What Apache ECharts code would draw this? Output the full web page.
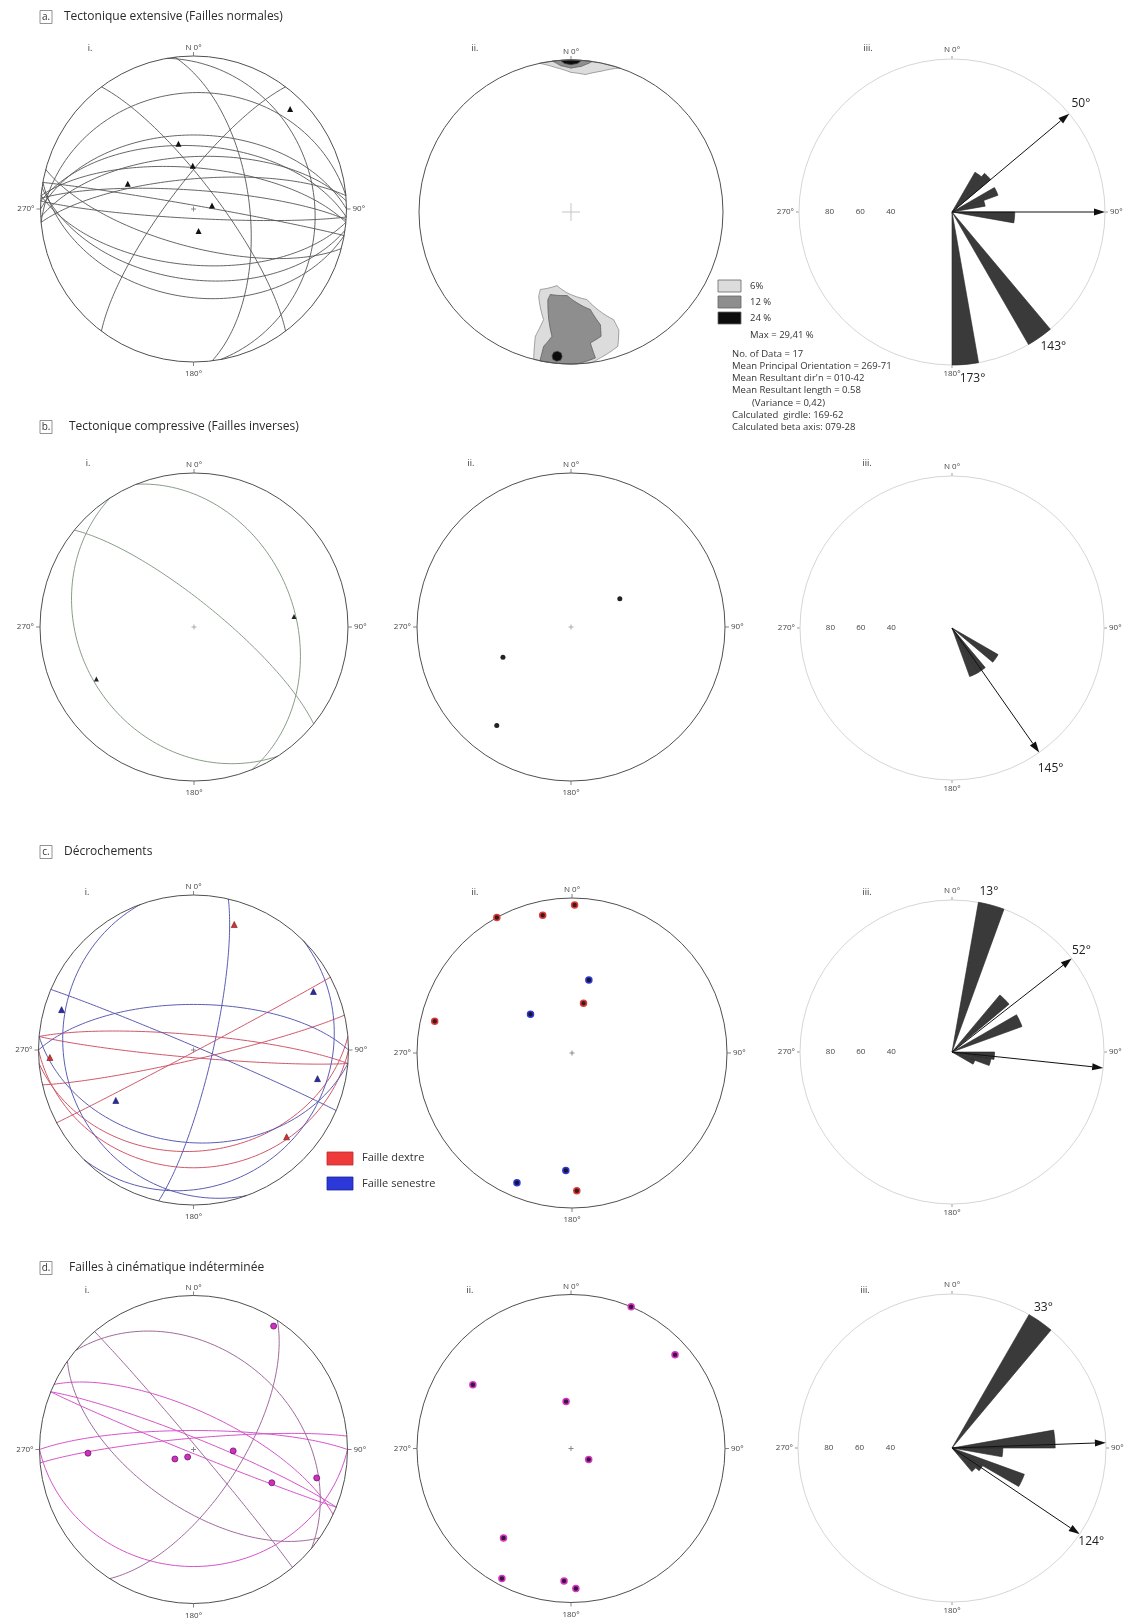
<!DOCTYPE html>
<html lang="fr">
<head>
<meta charset="utf-8">
<title>Stéréogrammes des failles</title>
<script src="https://cdn.jsdelivr.net/npm/echarts@6/dist/echarts.min.js"></script>
<style>
html,body{margin:0;padding:0;background:#fff;}
#chart{width:1130px;height:1620px;}
</style>
</head>
<body>
<div id="chart"></div>
<script>
// ================= DATA =================
// Planes: [dip direction (°), dip (°)] ; lineations / poles: [trend (°), plunge (°)]
// a. Tectonique extensive
const aiPlanes = [[0,50],[3,56],[357,62],[5,68],[355,74],[4,80],[183,85],[185,60],[188,52],[83,60],[53,77],[307,77],[80,22],[355,25],[190,42],[10,88],[195,70]];
const aiLineations = [[44,10],[347,54],[359,67],[291,52],[79,80],[167,78]];
// a.ii density contours (outline vertices as [trend, plunge])
const aiiContour6S  = [[201.6,44.4],[190.8,49.2],[182.8,45.8],[169.7,41.1],[158.4,24.8],[157.9,17.6],[160.8,7.1],[168.6,2.4],[172,0],[181.5,0],[194.2,0],[196,16],[194.3,27.8],[201,40.4]];
const aiiContour12S = [[194.1,43.4],[182.7,44.2],[168.8,34.9],[165.4,24.4],[166.4,17],[171.6,14],[170.5,3],[177.7,0],[191.8,0],[191.5,10.8],[188.7,18.4],[191.7,28.6],[194.8,40.2]];
const aiiContour24S = [[185.5,8.8],[187,7.8],[187.5,5.2],[187,2.6],[185.5,1.6],[184,2.6],[183.5,5.2],[184,7.8]];
const aiiContour6N  = [[348,0],[354,5],[0,9],[6,10],[12,6],[17,1.5],[19,0],[9,0],[0,0]];
const aiiContour12N = [[353,0],[356,4],[0,6],[4,4.5],[7,1.5],[8,0],[0,0]];
const aiiContour24N = [[356,0],[357.5,2.5],[0,3.5],[2.5,2.5],[4,0],[0,0]];
const aiiLegendLabels = ['6%','12 %','24 %'];
const aiiStats = ['No. of Data = 17','Mean Principal Orientation = 269-71','Mean Resultant dir\'n = 010-42','Mean Resultant length = 0.58','(Variance = 0,42)','Calculated  girdle: 169-62','Calculated beta axis: 079-28'];
const roseABins = [30,40,60,70,90,140,170];
const roseAVals = [30,33,32,22,41,100,100];
const roseAArrows = [50,90];
const roseALabels = [50,143,173];

// b. Tectonique compressive
const biPlanes = [[68,35],[237,27],[39,77]];
const biLineations = [[84,35],[242,29]];
const biiPoles = [[60,60],[246,50],[217,21]];
const roseBBins = [120,140,150];
const roseBVals = [35,34,34];
const roseBArrows = [145];
const roseBLabels = [145];

// c. Décrochements
const ciDextralPlanes = [[152,89],[5,82],[185,86],[167,85],[175,35],[180,25]];
const ciSenestralPlanes = [[103,80],[23,88],[0,66],[185,40],[135,15],[250,18]];
const ciDextralLineations = [[18,16],[267,8],[133,19]];
const ciSenestralLineations = [[64,15],[287,12],[237,40],[103,19]];
const ciiDextralPoles = [[1,5],[331,0],[348,10],[13,63],[283,10],[178,12]];
const ciiSenestralPoles = [[13,50],[313,60],[183,25],[203,10]];
const roseCBins = [10,40,60,90,100,110];
const roseCVals = [100,49,49,28,26,16];
const roseCArrows = [52,96];
const roseCLabels = [13,52];

// d. Failles à cinématique indéterminée
const diPlanesMagenta = [[22,84],[202,88],[25,70],[0,80],[355,84],[180,25]];
const diPlanesMauve = [[123,65],[50,88],[40,35],[215,60]];
const diLineations = [[33,5],[268,32],[243,79],[218,85],[92,69],[113,44],[103,19]];
const diiPoles = [[23,0],[48,10],[303,25],[354,65],[122,79],[217,28],[208,5],[183,15],[178,10]];
const roseDBins = [30,80,90,110,120,130];
const roseDVals = [100,67,33,50,23,20];
const roseDArrows = [88,124];
const roseDLabels = [33,124];

const roseScale = [80,60,40];
const FONT = 'Open Sans';

// ================= HELPERS =================
const D2R = Math.PI / 180;
// lower-hemisphere equal-area (Schmidt) projection, unit primitive
function projLine(trend, plunge) {
  const r = Math.SQRT2 * Math.sin((90 - plunge) / 2 * D2R);
  return [r * Math.sin(trend * D2R), r * Math.cos(trend * D2R)];
}
function greatCircle(dipDir, dip) {
  const s = (dipDir - 90) * D2R, D = dipDir * D2R, d = dip * D2R, pts = [];
  for (let t = 0; t <= 180; t += 2) {
    const ct = Math.cos(t * D2R), st = Math.sin(t * D2R);
    const vE = ct * Math.sin(s) + st * Math.cos(d) * Math.sin(D);
    const vN = ct * Math.cos(s) + st * Math.cos(d) * Math.cos(D);
    const vD = st * Math.sin(d);
    const tr = Math.atan2(vE, vN) / D2R;
    const pl = Math.asin(Math.max(0, Math.min(1, vD))) / D2R;
    pts.push(projLine(tr, pl));
  }
  return pts;
}
function densify(poly) {
  const out = [];
  for (let i = 0; i < poly.length; i++) {
    const a = poly[i], b = poly[(i + 1) % poly.length];
    const dt = ((b[0] - a[0] + 540) % 360) - 180;
    for (let k = 0; k < 8; k++) {
      const f = k / 8;
      out.push([a[0] + dt * f, a[1] + (b[1] - a[1]) * f]);
    }
  }
  return out;
}

// ================= LAYOUT =================
const stereo = [
  {cx:193.5, cy:209,    r:153, cross:5,  crossColor:'#888', sides:true},  // a.i
  {cx:571,   cy:212,    r:152, cross:18, crossColor:'#c4c4c4', sides:false}, // a.ii
  {cx:194,   cy:627,    r:154, cross:5,  crossColor:'#aaa', sides:true},  // b.i
  {cx:571,   cy:627,    r:154, cross:5,  crossColor:'#aaa', sides:true},  // b.ii
  {cx:193.5, cy:1050,   r:155, cross:5,  crossColor:'#888', sides:true},  // c.i
  {cx:572,   cy:1053,   r:155, cross:5,  crossColor:'#888', sides:true},  // c.ii
  {cx:193.5, cy:1449.5, r:154, cross:5,  crossColor:'#888', sides:true},  // d.i
  {cx:571,   cy:1448.5, r:154, cross:5,  crossColor:'#888', sides:true}   // d.ii
];
const roses = [
  {cx:952, cy:212,  r:153, labelR:110},
  {cx:952, cy:628,  r:152, labelR:113},
  {cx:952, cy:1052, r:152, labelR:108},
  {cx:952, cy:1448, r:154, labelR:109}
];

const grids = [], xAxes = [], yAxes = [], series = [];
stereo.forEach((s, i) => {
  grids.push({left: s.cx - s.r, top: s.cy - s.r, width: 2 * s.r, height: 2 * s.r, containLabel: false});
  xAxes.push({gridIndex: i, type: 'value', min: -1, max: 1, show: false});
  yAxes.push({gridIndex: i, type: 'value', min: -1, max: 1, show: false});
  series.push({
    type: 'custom', xAxisIndex: i, yAxisIndex: i, data: [[0, 0]], silent: true, z: 5,
    renderItem: (params, api) => {
      const c = api.coord([0, 0]), e = api.coord([1, 0]);
      const R = e[0] - c[0], h = s.cross / 2;
      const ln = (x1, y1, x2, y2, col, w) => ({type: 'line', shape: {x1, y1, x2, y2}, style: {stroke: col, lineWidth: w}});
      const ch = [
        {type: 'circle', shape: {cx: c[0], cy: c[1], r: R}, style: {fill: 'none', stroke: '#505050', lineWidth: 1}},
        ln(c[0], c[1] - R, c[0], c[1] - R - 4, '#666', 0.8),
        ln(c[0] - h, c[1], c[0] + h, c[1], s.crossColor, 1),
        ln(c[0], c[1] - h, c[0], c[1] + h, s.crossColor, 1)
      ];
      if (s.sides) {
        ch.push(ln(c[0], c[1] + R, c[0], c[1] + R + 4, '#666', 0.8));
        ch.push(ln(c[0] - R, c[1], c[0] - R - 4, c[1], '#666', 0.8));
        ch.push(ln(c[0] + R, c[1], c[0] + R + 4, c[1], '#666', 0.8));
      }
      return {type: 'group', children: ch};
    }
  });
});

function planeSeries(gi, planes, color, width) {
  planes.forEach(p => series.push({
    type: 'line', xAxisIndex: gi, yAxisIndex: gi, data: greatCircle(p[0], p[1]),
    showSymbol: false, symbol: 'none', silent: true, clip: false, z: 3,
    lineStyle: {color: color, width: width}
  }));
}
function pointSeries(gi, pts, o) {
  series.push({
    type: 'scatter', xAxisIndex: gi, yAxisIndex: gi, silent: true, z: 6,
    data: pts.map(p => projLine(p[0], p[1])),
    symbol: o.symbol, symbolSize: o.size,
    itemStyle: {color: o.color, borderColor: o.border || o.color, borderWidth: o.bw || 0, opacity: 1}
  });
}
function contourSeries(gi, poly, fill, stroke) {
  const pts = densify(poly).map(p => projLine(p[0], p[1]));
  series.push({
    type: 'custom', xAxisIndex: gi, yAxisIndex: gi, data: [[0, 0]], silent: true, z: 2,
    renderItem: (params, api) => ({type: 'polygon', shape: {points: pts.map(p => api.coord(p))},
      style: {fill: fill, stroke: stroke, lineWidth: 0.8}})
  });
}

// ---- stereonet content ----
planeSeries(0, aiPlanes, '#555', 0.9);
pointSeries(0, aiLineations, {symbol: 'triangle', size: 6, color: '#111'});

contourSeries(1, aiiContour6S, '#dcdcdc', '#8a8a8a');
contourSeries(1, aiiContour6N, '#dcdcdc', '#8a8a8a');
contourSeries(1, aiiContour12S, '#8e8e8e', '#5e5e5e');
contourSeries(1, aiiContour12N, '#8e8e8e', '#5e5e5e');
contourSeries(1, aiiContour24S, '#0c0c0c', '#444');
contourSeries(1, aiiContour24N, '#0c0c0c', '#444');

planeSeries(2, biPlanes, '#8a9c8a', 1);
pointSeries(2, biLineations, {symbol: 'triangle', size: 5, color: '#222'});
pointSeries(3, biiPoles, {symbol: 'circle', size: 5, color: '#222'});

planeSeries(4, ciDextralPlanes, '#d0586a', 1);
planeSeries(4, ciSenestralPlanes, '#5c5cb4', 1);
pointSeries(4, ciDextralLineations, {symbol: 'triangle', size: 6, color: '#d83030', border: '#5a1d1d', bw: 0.6});
pointSeries(4, ciSenestralLineations, {symbol: 'triangle', size: 6, color: '#2a2aa8', border: '#141450', bw: 0.6});
pointSeries(5, ciiDextralPoles, {symbol: 'circle', size: 6, color: '#3a1c1c', border: '#e33a3a', bw: 1.5});
pointSeries(5, ciiSenestralPoles, {symbol: 'circle', size: 6, color: '#14143a', border: '#2f3ad0', bw: 1.5});

planeSeries(6, diPlanesMagenta, '#d653c9', 1);
planeSeries(6, diPlanesMauve, '#a06a9c', 1);
pointSeries(6, diLineations, {symbol: 'circle', size: 6, color: '#d22ec2', border: '#6a1c66', bw: 0.8});
pointSeries(7, diiPoles, {symbol: 'circle', size: 6, color: '#3c163a', border: '#d636c8', bw: 1.5});

// ---- roses ----
const polars = roses.map(r => ({center: [r.cx, r.cy], radius: r.r}));
const angleAxes = roses.map((r, i) => ({
  polarIndex: i, type: 'value', min: 0, max: 360, interval: 90, startAngle: 90, clockwise: true,
  axisLine: {show: true, lineStyle: {color: '#d6d6d6', width: 1}},
  axisTick: {show: true, length: 3, lineStyle: {color: '#999'}},
  axisLabel: {show: true, margin: 5, fontSize: 8, fontFamily: FONT, color: '#444',
    formatter: v => v === 0 ? 'N 0°' : (v >= 360 ? '' : v + '°')},
  splitLine: {show: false}
}));
const radiusAxes = roses.map((r, i) => ({polarIndex: i, type: 'value', min: 0, max: 100, show: false}));

function roseSeries(pi, bins, vals, arrows, labels, labelR) {
  series.push({
    type: 'custom', coordinateSystem: 'polar', polarIndex: pi, silent: true, z: 3,
    data: bins.map((b, k) => [vals[k], b]),
    renderItem: (params, api) => {
      const v = api.value(0), a0 = api.value(1);
      const pts = [api.coord([0, a0])];
      for (let k = 0; k <= 5; k++) pts.push(api.coord([v, a0 + 10 * k / 5]));
      return {type: 'polygon', shape: {points: pts}, style: {fill: '#3a3a3a', stroke: '#262626', lineWidth: 0.6}};
    }
  });
  series.push({
    type: 'custom', coordinateSystem: 'polar', polarIndex: pi, silent: true, z: 4,
    data: arrows.map(a => [100, a]),
    renderItem: (params, api) => {
      const a = api.value(1);
      const p0 = api.coord([0, a]), p1 = api.coord([api.value(0), a]);
      const dx = p1[0] - p0[0], dy = p1[1] - p0[1], L = Math.hypot(dx, dy);
      const ux = dx / L, uy = dy / L, hl = 11, hw = 3.6;
      const bx = p1[0] - ux * hl, by = p1[1] - uy * hl;
      return {type: 'group', children: [
        {type: 'line', shape: {x1: p0[0], y1: p0[1], x2: bx, y2: by}, style: {stroke: '#111', lineWidth: 1}},
        {type: 'polygon', shape: {points: [p1, [bx - uy * hw, by + ux * hw], [bx + uy * hw, by - ux * hw]]}, style: {fill: '#111'}}
      ]};
    }
  });
  series.push({
    type: 'custom', coordinateSystem: 'polar', polarIndex: pi, silent: true, z: 4,
    data: labels.map(a => [labelR, a]),
    renderItem: (params, api) => {
      const p = api.coord([api.value(0), api.value(1)]);
      return {type: 'text', x: p[0], y: p[1], style: {text: api.value(1) + '°', fill: '#222', fontSize: 12, fontFamily: FONT,
        align: 'center', verticalAlign: 'middle', textAlign: 'center', textVerticalAlign: 'middle'}};
    }
  });
  series.push({
    type: 'custom', coordinateSystem: 'polar', polarIndex: pi, silent: true, z: 4,
    data: roseScale.map(v => [v, 270]),
    renderItem: (params, api) => {
      const p = api.coord([api.value(0), api.value(1)]);
      return {type: 'text', x: p[0], y: p[1], style: {text: String(api.value(0)), fill: '#444', fontSize: 8, fontFamily: FONT,
        align: 'center', verticalAlign: 'middle', textAlign: 'center', textVerticalAlign: 'middle'}};
    }
  });
}
roseSeries(0, roseABins, roseAVals, roseAArrows, roseALabels, roses[0].labelR);
roseSeries(1, roseBBins, roseBVals, roseBArrows, roseBLabels, roses[1].labelR);
roseSeries(2, roseCBins, roseCVals, roseCArrows, roseCLabels, roses[2].labelR);
roseSeries(3, roseDBins, roseDVals, roseDArrows, roseDLabels, roses[3].labelR);

// ---- texts & decorations ----
const g = [];
function txt(x, y, text, size, color, align) {
  align = align || 'left';
  return {type: 'text', x: x, y: y, silent: true, z: 10,
    style: {text: text, fill: color || '#333', fontSize: size, fontFamily: FONT,
      align: align, textAlign: align, verticalAlign: 'middle', textVerticalAlign: 'middle'}};
}
function rect(x, y, w, h, fill, stroke) {
  return {type: 'rect', silent: true, z: 10, shape: {x: x, y: y, width: w, height: h},
    style: {fill: fill, stroke: stroke || null, lineWidth: 0.8}};
}
const rowTitles = [
  {letter: 'a.', text: 'Tectonique extensive (Failles normales)', y: 17, tx: 64},
  {letter: 'b.', text: 'Tectonique compressive (Failles inverses)', y: 427, tx: 69},
  {letter: 'c.', text: 'Décrochements', y: 852, tx: 64},
  {letter: 'd.', text: 'Failles à cinématique indéterminée', y: 1268, tx: 69}
];
rowTitles.forEach(t => {
  g.push(rect(40, t.y - 6.5, 12, 13, 'none', '#777'));
  g.push(txt(46, t.y, t.letter, 10, '#333', 'center'));
  g.push(txt(t.tx, t.y, t.text, 12, '#2a2a2a', 'left'));
});
const subLabels = [
  [90,48,'i.'],[475,48,'ii.'],[868,48,'iii.'],
  [88,463,'i.'],[471,463,'ii.'],[867,463,'iii.'],
  [87,892,'i.'],[475,892,'ii.'],[867,892,'iii.'],
  [87,1290,'i.'],[470,1290,'ii.'],[865,1290,'iii.']
];
subLabels.forEach(s => g.push(txt(s[0], s[1], s[2], 9, '#333', 'center')));
stereo.forEach(s => {
  g.push(txt(s.cx, s.cy - s.r - 8, 'N 0°', 8, '#444', 'center'));
  if (s.sides) {
    g.push(txt(s.cx, s.cy + s.r + 12, '180°', 8, '#444', 'center'));
    g.push(txt(s.cx - s.r - 6, s.cy, '270°', 8, '#444', 'right'));
    g.push(txt(s.cx + s.r + 6, s.cy, '90°', 8, '#444', 'left'));
  }
});
// contour legend (a.ii)
const legFills = ['#dcdcdc', '#8e8e8e', '#0c0c0c'];
aiiLegendLabels.forEach((l, k) => {
  g.push(rect(718, 280 + k * 16, 23, 12, legFills[k], '#666'));
  g.push(txt(750, 286 + k * 16, l, 9.5, '#333', 'left'));
});
g.push(txt(750, 335, 'Max = 29,41 %', 9.5, '#333', 'left'));
aiiStats.forEach((l, k) => g.push(txt(k === 4 ? 752 : 732, 354 + k * 12.2, l, 9.5, '#333', 'left')));
// c legend
g.push(rect(327, 1152, 26, 13, '#ee3a3a', '#c02a2a'));
g.push(rect(327, 1177, 26, 13, '#2c38d8', '#1a2499'));
g.push(txt(362, 1158, 'Faille dextre', 11, '#333', 'left'));
g.push(txt(362, 1184, 'Faille senestre', 11, '#333', 'left'));

const option = {
  animation: false,
  backgroundColor: '#ffffff',
  grid: grids, xAxis: xAxes, yAxis: yAxes,
  polar: polars, angleAxis: angleAxes, radiusAxis: radiusAxes,
  series: series,
  graphic: {elements: g}
};
const chart = echarts.init(document.getElementById('chart'));
chart.setOption(option);
</script>
</body>
</html>
